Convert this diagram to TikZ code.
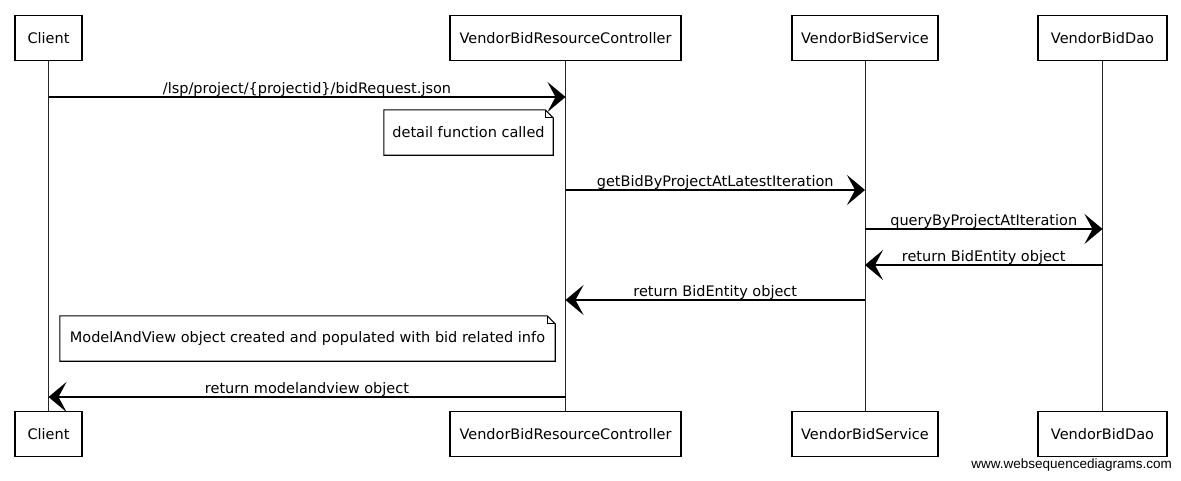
\documentclass[tikz,border=0pt]{standalone}
\usepackage{fontspec}
\setmainfont{DejaVu Sans}
\newfontfamily\wmfont{Liberation Sans}
\usetikzlibrary{arrows.meta}
\begin{document}
\begin{tikzpicture}[x=1pt,y=-1pt,
  txt/.style={font=\fontsize{14.5}{17}\selectfont},
  actor/.style={txt, draw, line width=1.1pt, fill=white, minimum height=45pt, inner sep=0pt},
  lifeline/.style={line width=0.9pt, black!85},
  msg/.style={line width=1.2pt, -{Stealth[length=18pt, width=30pt, inset=8pt]}},
  lbl/.style={txt, anchor=base, inner sep=0pt, yshift=4pt},
  notebox/.style={txt, minimum height=45pt, inner sep=0pt},
  noteline/.style={line width=1.1pt, fill=white},
]
\useasboundingbox (0,0) rectangle (1181,480);

% participants, top row
\node[actor, minimum width=67pt]  (clientT) at (48.5,38)   {Client};
\node[actor, minimum width=231pt] (ctrlT)   at (565.5,38)  {VendorBidResourceController};
\node[actor, minimum width=146pt] (svcT)    at (865,38)    {VendorBidService};
\node[actor, minimum width=129pt] (daoT)    at (1102.5,38) {VendorBidDao};

% participants, bottom row
\node[actor, minimum width=67pt]  (clientB) at (48.5,434)   {Client};
\node[actor, minimum width=231pt] (ctrlB)   at (565.5,434)  {VendorBidResourceController};
\node[actor, minimum width=146pt] (svcB)    at (865,434)    {VendorBidService};
\node[actor, minimum width=129pt] (daoB)    at (1102.5,434) {VendorBidDao};

% lifelines
\draw[lifeline] (clientT.south) -- (clientB.north);
\draw[lifeline] (ctrlT.south)   -- (ctrlB.north);
\draw[lifeline] (svcT.south)    -- (svcB.north);
\draw[lifeline] (daoT.south)    -- (daoB.north);

% messages
\draw[msg] (clientT.south |- 0,97) -- (ctrlT.south |- 0,97)
  node[lbl, midway] {/lsp/project/\{projectid\}/bidRequest.json};
\draw[msg] (ctrlT.south |- 0,190) -- (svcT.south |- 0,190)
  node[lbl, midway] {getBidByProjectAtLatestIteration};
\draw[msg] (svcT.south |- 0,229) -- (daoT.south |- 0,229)
  node[lbl, midway] {queryByProjectAtIteration};
\draw[msg] (daoT.south |- 0,265) -- (svcT.south |- 0,265)
  node[lbl, midway] {return BidEntity object};
\draw[msg] (svcT.south |- 0,300) -- (ctrlT.south |- 0,300)
  node[lbl, midway] {return BidEntity object};
\draw[msg] (ctrlT.south |- 0,397) -- (clientT.south |- 0,397)
  node[lbl, midway] {return modelandview object};

% notes with a folded corner
\node[notebox, minimum width=169pt] (n1) at (468.5,132.5) {};
\node[notebox, minimum width=495pt] (n2) at (307.5,338.5) {};
\foreach \n in {n1,n2}{
  \draw[noteline] (\n.south west) -- (\n.north west)
    -- ([xshift=-8pt]\n.north east) -- ([yshift=-8pt]\n.north east)
    -- (\n.south east) -- cycle;
  \draw[line width=0.8pt] ([xshift=-8pt]\n.north east)
    -- ([xshift=-8pt,yshift=-8pt]\n.north east) -- ([yshift=-8pt]\n.north east);
}
\node[txt] at (n1) {detail function called};
\node[txt] at (n2) {ModelAndView object created and populated with bid related info};

% footer
\node[font=\wmfont\fontsize{13.5}{15}\selectfont, anchor=east, inner sep=0pt] (wm) at (1172,465) {www.websequencediagrams.com};
\end{tikzpicture}
\end{document}
